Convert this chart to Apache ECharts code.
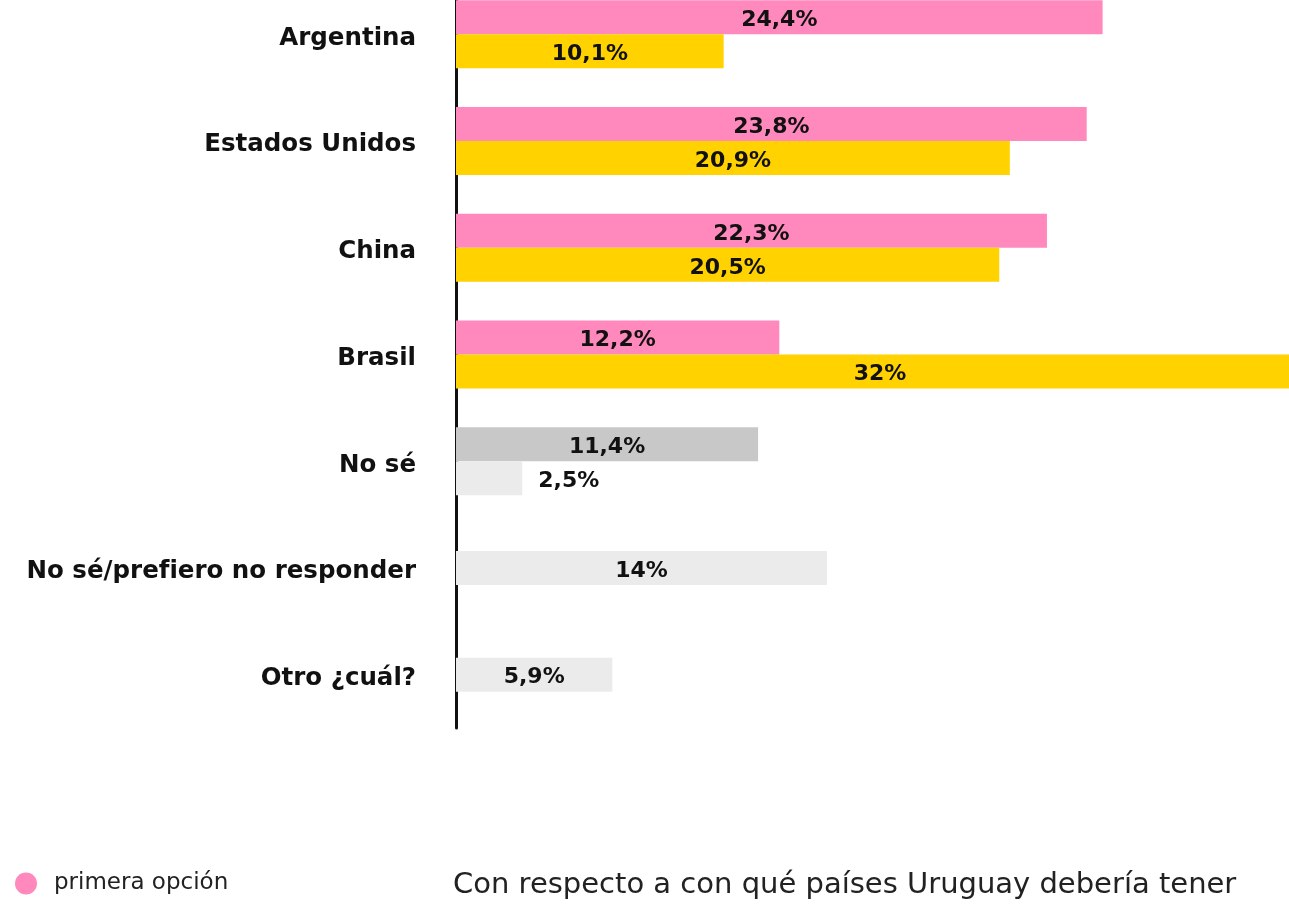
<!DOCTYPE html>
<html lang="es">
<head>
  <meta charset="UTF-8">
  <title>Relaciones</title>
  <style>
    html, body { margin: 0; padding: 0; background: #fff; }
  </style>
</head>
<body>
  <div id="main" style="width: 1289px;height:908px;"></div>
  <script src="https://cdn.jsdelivr.net/npm/echarts@6/dist/echarts.min.js"></script>
  <script type="text/javascript">
    // datos
    var categorias = ['Argentina', 'Estados Unidos', 'China', 'Brasil', 'No sé', 'No sé/prefiero no responder', 'Otro ¿cuál?'];
    var primeraOpcion = [24.4, 23.8, 22.3, 12.2, 11.4, null, null];
    var segundaOpcion = [10.1, 20.9, 20.5, 32, 2.5, null, null];
    var otrasRespuestas = [null, null, null, null, null, 14, 5.9];

    var fuente = '"DejaVu Sans", sans-serif';

    function pct(v) {
      return String(v).replace('.', ',') + '%';
    }

    function armar(arr, color, idxGris, colorGris) {
      return arr.map(function (v, i) {
        if (v === null) return '-';
        if (i === idxGris) {
          var item = { value: v, itemStyle: { color: colorGris } };
          // barra muy corta: etiqueta afuera
          if (v < 4) item.label = { position: 'right', distance: 16 };
          return item;
        }
        return { value: v, itemStyle: { color: color } };
      });
    }

    var etiqueta = {
      show: true,
      position: 'inside',
      offset: [0, 3],
      color: '#111',
      fontFamily: fuente,
      fontWeight: 'bold',
      fontSize: 22,
      formatter: function (p) { return pct(p.value); }
    };

    var myChart = echarts.init(document.getElementById('main'));

    var option = {
      backgroundColor: '#ffffff',
      animation: false,
      grid: {
        left: 456,
        right: -15,
        top: -19,
        bottom: 180,
        outerBoundsMode: 'none',
        containLabel: false
      },
      legend: {
        data: ['primera opción'],
        left: 10,
        top: 867,
        icon: 'circle',
        itemWidth: 22,
        itemHeight: 22,
        textStyle: { fontSize: 23, color: '#222', fontFamily: fuente, padding: [0, 0, 0, 12] }
      },
      graphic: [{
        type: 'text',
        left: 453,
        top: 871,
        style: {
          text: 'Con respecto a con qué países Uruguay debería tener',
          fontSize: 29,
          fontFamily: fuente,
          fill: '#222'
        }
      }],
      xAxis: {
        type: 'value',
        min: 0,
        max: 32,
        show: false
      },
      yAxis: [{
        type: 'category',
        inverse: true,
        data: categorias,
        axisTick: { show: false },
        axisLine: { show: true, lineStyle: { color: '#111', width: 3 } },
        axisLabel: {
          margin: 40,
          formatter: function (v) { return '{a|' + v + '}'; },
          rich: {
            a: {
              padding: [8, 0, 0, 0],
              color: '#111',
              fontFamily: fuente,
              fontWeight: 'bold',
              fontSize: 24.5
            }
          }
        }
      }, {
        type: 'category',
        inverse: true,
        data: categorias,
        show: false
      }],
      series: [{
        name: 'primera opción',
        type: 'bar',
        yAxisIndex: 0,
        barWidth: 34,
        barGap: '0%',
        itemStyle: { color: '#FF88BC' },
        label: etiqueta,
        data: armar(primeraOpcion, '#FF88BC', 4, '#C8C8C8')
      }, {
        name: 'segunda opción',
        type: 'bar',
        yAxisIndex: 0,
        barWidth: 34,
        barGap: '0%',
        itemStyle: { color: '#FFD200' },
        label: etiqueta,
        data: armar(segundaOpcion, '#FFD200', 4, '#EBEBEB')
      }, {
        name: 'otras',
        type: 'bar',
        yAxisIndex: 1,
        barWidth: 34,
        itemStyle: { color: '#EBEBEB' },
        label: etiqueta,
        data: otrasRespuestas.map(function (v) { return v === null ? '-' : v; })
      }]
    };

    myChart.setOption(option);
  </script>
</body>
</html>
